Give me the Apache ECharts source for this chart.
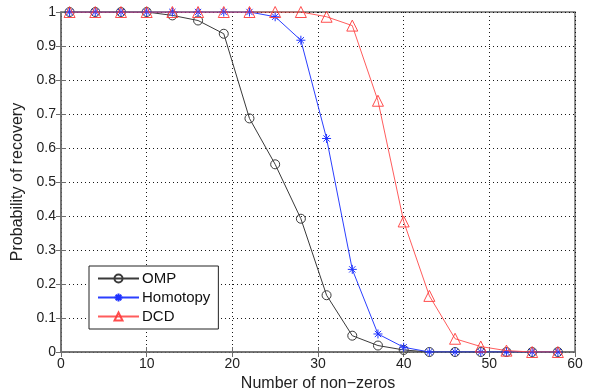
<!DOCTYPE html>
<html>
<head>
<meta charset="utf-8">
<script src="https://cdn.jsdelivr.net/npm/echarts@6/dist/echarts.min.js"></script>
<style>
  html, body { margin: 0; padding: 0; background: #fff; }
  #chart { width: 600px; height: 392px; }
</style>
</head>
<body>
<div id="chart"></div>
<script>
// number of non-zeros (x positions of the markers)
const nonZeros = [1, 4, 7, 10, 13, 16, 19, 22, 25, 28, 31, 34, 37, 40, 43, 46, 49, 52, 55, 58];
const ompVals = [1, 1, 1, 1, 0.99, 0.975, 0.936, 0.687, 0.552, 0.392, 0.167, 0.048, 0.019, 0.006, 0, 0, 0, 0, 0, 0];
const homotopyVals = [1, 1, 1, 1, 1, 1, 1, 1, 0.986, 0.917, 0.628, 0.243, 0.053, 0.014, 0, 0, 0, 0, 0, 0];
const dcdVals = [1, 1, 1, 1, 1, 1, 1, 1, 1, 1, 0.986, 0.96, 0.739, 0.384, 0.165, 0.039, 0.016, 0.004, 0, 0];
const xTicks = [0, 10, 20, 30, 40, 50, 60];

const FONT = '"Liberation Sans", Arial, sans-serif';
const asterisk = 'path://M0,-1L0,1M-1,0L1,0M-0.7,-0.7L0.7,0.7M-0.7,0.7L0.7,-0.7';
const triangle = 'path://M0,-1L0.9,0.6L-0.9,0.6Z';

const pairs = (ys) => nonZeros.map((x, i) => [x, ys[i]]);

const chart = echarts.init(document.getElementById('chart'));

const gridLine = { show: true, lineStyle: { color: '#000', type: [1, 3], width: 1, opacity: 0.9 } };
const innerTick = { show: true, inside: true, length: 5, lineStyle: { color: '#6e6e6e' } };

chart.setOption({
  animation: false,
  textStyle: { fontFamily: FONT },
  grid: {
    left: 61, right: 25, top: 12, bottom: 40,
    outerBoundsMode: 'none', containLabel: false,
    show: true, borderColor: '#6e6e6e', borderWidth: 1.5, backgroundColor: '#fff'
  },
  legend: {
    orient: 'vertical',
    left: 89, top: 266,
    backgroundColor: '#fff',
    borderColor: '#222', borderWidth: 1, borderRadius: 0,
    padding: [5, 8, 5, 8],
    itemWidth: 41, itemHeight: 10, itemGap: 4,
    textStyle: { fontFamily: FONT, fontSize: 15, color: '#111', padding: [0, 0, 0, -2] },
    data: ['OMP', 'Homotopy', 'DCD']
  },
  xAxis: [{
    type: 'value', min: 0, max: 60, interval: 10,
    name: 'Number of non\u2212zeros', nameLocation: 'middle', nameGap: 22,
    nameTextStyle: { fontFamily: FONT, fontSize: 16, color: '#222' },
    axisLine: { show: true, lineStyle: { color: '#6e6e6e', width: 1.5 } },
    axisTick: innerTick,
    axisLabel: {
      fontFamily: FONT, fontSize: 14, color: '#222', margin: 5,
      formatter: (v) => xTicks.includes(v) ? String(v) : ''
    },
    splitLine: gridLine
  }, {
    type: 'value', min: 0, max: 60, interval: 10, position: 'top',
    axisLine: { show: false }, axisLabel: { show: false }, splitLine: { show: false },
    axisTick: innerTick
  }],
  yAxis: [{
    type: 'value', min: 0, max: 1, interval: 0.1,
    name: 'Probability of recovery', nameLocation: 'middle', nameGap: 31,
    nameTextStyle: { fontFamily: FONT, fontSize: 16, color: '#222' },
    axisLine: { show: true, lineStyle: { color: '#6e6e6e', width: 1.5 } },
    axisTick: innerTick,
    axisLabel: {
      fontFamily: FONT, fontSize: 14, color: '#222', margin: 5,
      formatter: (v) => (v === 0 ? '0' : Math.abs(v - 1) < 1e-9 ? '1' : v.toFixed(1))
    },
    splitLine: gridLine
  }, {
    type: 'value', min: 0, max: 1, interval: 0.1, position: 'right',
    axisLine: { show: false }, axisLabel: { show: false }, splitLine: { show: false },
    axisTick: innerTick
  }],
  series: [
    {
      name: 'OMP', type: 'line', data: pairs(ompVals),
      symbol: 'circle', symbolSize: 9,
      lineStyle: { color: '#3a3a3a', width: 1 },
      itemStyle: { color: 'rgba(0,0,0,0)', borderColor: '#3a3a3a', borderWidth: 1 },
      z: 2
    },
    {
      name: 'Homotopy', type: 'line', data: pairs(homotopyVals),
      symbol: asterisk, symbolSize: 9,
      lineStyle: { color: '#2b3fff', width: 1 },
      itemStyle: { color: 'rgba(0,0,0,0)', borderColor: '#1f33ff', borderWidth: 1 },
      z: 3
    },
    {
      name: 'DCD', type: 'line', data: pairs(dcdVals),
      symbol: triangle, symbolSize: 11,
      lineStyle: { color: '#ff4a4a', width: 1, opacity: 0.9 },
      itemStyle: { color: 'rgba(0,0,0,0)', borderColor: '#ff3a3a', borderWidth: 1, opacity: 0.9 },
      z: 4
    }
  ]
});
</script>
</body>
</html>
